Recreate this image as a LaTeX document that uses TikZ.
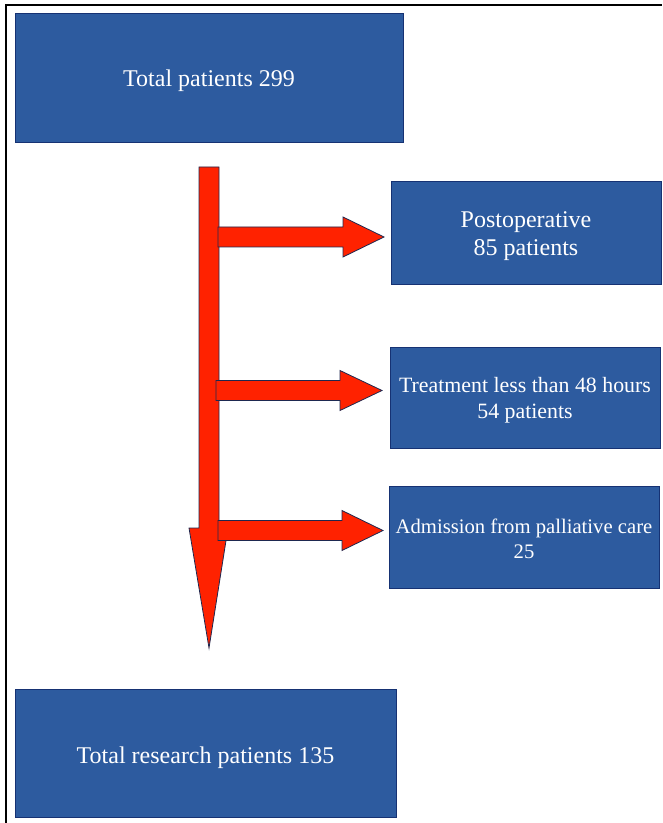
\documentclass[tikz,border=0pt]{standalone}
\usepackage{fontspec}
\setmainfont{Liberation Serif}
\definecolor{boxblue}{RGB}{45,91,159}
\definecolor{boxedge}{RGB}{22,50,115}
\definecolor{arrred}{RGB}{255,34,0}
\definecolor{arredge}{RGB}{30,40,80}
\newcommand\sidearrow[4]{\draw[fatarrow] (#2,#1-10) -- (#3,#1-10) -- (#3,#1-20) -- (#4,#1) -- (#3,#1+20) -- (#3,#1+10) -- (#2,#1+10) -- cycle;}
\begin{document}
\begin{tikzpicture}[x=0.75pt,y=-0.75pt,
  box/.style={draw=boxedge, line width=0.75pt, fill=boxblue, inner sep=0pt},
  boxtext/.style={text=white, align=center, inner sep=0pt},
  fatarrow/.style={fill=arrred, draw=arredge, line width=0.6pt, line join=miter}]
\useasboundingbox (0,0) rectangle (662,823);
\draw[line width=1.5pt] (6,823) -- (6,5) -- (662,5);

\node[box, minimum width=291pt, minimum height=96.75pt] (total) at (209,78.5) {};
\node[boxtext, font=\fontsize{18}{21}\selectfont] (totaltext) at ([yshift=-1.5pt]total.center) {Total patients 299};

\node[box, minimum width=202.5pt, minimum height=76.5pt] (post) at (526,233) {};
\node[boxtext, font=\fontsize{18}{21}\selectfont] (posttext) at ([yshift=-2.2pt]post.center) {Postoperative\\85 patients};

\node[box, minimum width=202.5pt, minimum height=75.75pt] (treat) at (525,397.5) {};
\node[boxtext, font=\fontsize{16.4}{19}\selectfont] (treattext) at ([yshift=-2pt]treat.center) {Treatment less than 48 hours\\54 patients};

\node[box, minimum width=202.5pt, minimum height=76.5pt] (adm) at (524,537) {};
\node[boxtext, font=\fontsize{15.5}{19}\selectfont] (admtext) at ([yshift=-1.2pt]adm.center) {Admission from palliative care\\25};

\node[box, minimum width=285.75pt, minimum height=96pt] (research) at (205.5,753) {};
\node[boxtext, font=\fontsize{18}{21}\selectfont] (researchtext) at ([yshift=-3.5pt]research.center) {Total research patients 135};

\draw[fatarrow] (199,167) -- (219,167) -- (219,528) -- (228,528) -- (209,648) -- (189,528) -- (199,528) -- cycle;
\sidearrow{237}{218}{343}{384}
\sidearrow{390.5}{216}{340}{382}
\sidearrow{530.5}{218}{342}{383}
\end{tikzpicture}
\end{document}
